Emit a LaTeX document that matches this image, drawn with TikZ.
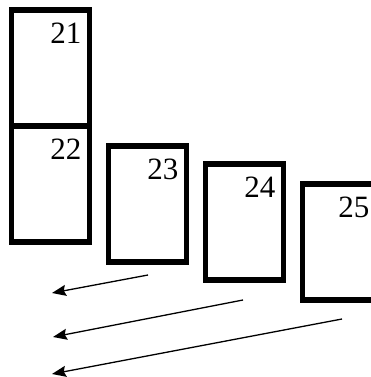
\documentclass[tikz,border=0pt]{standalone}
\usepackage{fontspec}
\setmainfont{Liberation Serif}
\usepackage{tikz}
\usetikzlibrary{arrows.meta}

\begin{document}
\begin{tikzpicture}[x=1pt,y=1pt,
  frame/.style={draw,line width=5.5pt,minimum width=78pt,minimum height=116pt,inner sep=0pt,outer sep=0pt},
  num/.style={anchor=north east,inner sep=0pt,font=\fontsize{31}{36}\selectfont},
  flow/.style={-{Stealth[length=14pt,width=11pt,inset=2pt]},line width=1.3pt}]
  \useasboundingbox (0,0) rectangle (371,377);
  \clip (0,0) rectangle (371,377);
  \node[frame] (b21) at (50.5,309) {};
  \node[frame,anchor=north] (b22) at (b21.south) {};
  \node[frame] (b23) at (147.5,172.8) {};
  \node[frame] (b24) at (244.5,155) {};
  \node[frame] (b25) at (341.5,134.8) {};
  \foreach \b in {21,22,23,24}
    \node[num] (l\b) at ([shift={(-8,-13)}]b\b.north east) {\b};
  \node[num] (l25) at ([shift={(-11,-13)}]b25.north east) {25};
  \coordinate (t1) at (148,102);
  \coordinate (h1) at (52,84);
  \coordinate (t2) at (243,77);
  \coordinate (h2) at (53,40);
  \coordinate (t3) at (342,58);
  \coordinate (h3) at (52,3);
  \draw[flow] (t1) -- (h1);
  \draw[flow] (t2) -- (h2);
  \draw[flow] (t3) -- (h3);
\end{tikzpicture}
\end{document}
